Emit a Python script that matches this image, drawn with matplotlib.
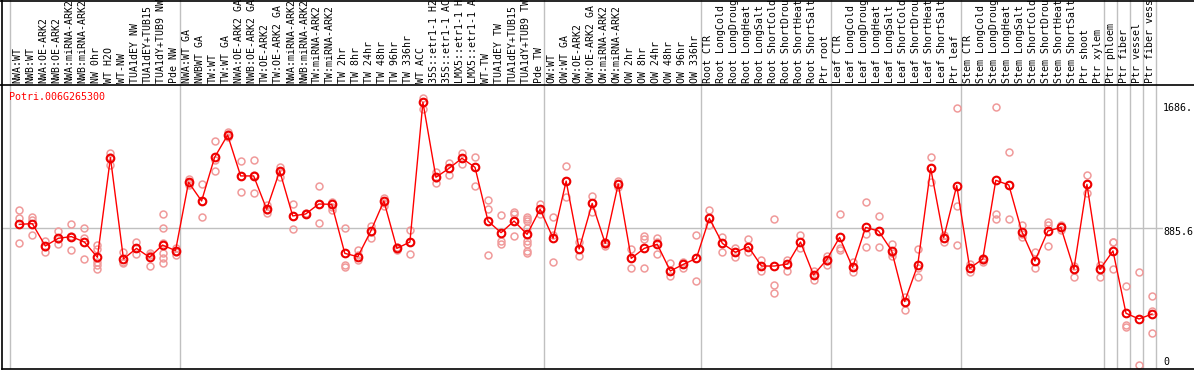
import matplotlib
matplotlib.use("Agg")
import matplotlib.pyplot as plt
from matplotlib.lines import Line2D

labels = ["NWA:WT", "NWB:WT", "NWA:OE-ARK2", "NWB:OE-ARK2", "NWA:miRNA-ARK2", "NWB:miRNA-ARK2",
          "NW 0hr", "WT H2O", "WT-NW", "TUA1dEY NW", "TUA1dEY+TUB15", "TUA1dY+TUB9 NW", "Pde NW",
          "NWA:WT GA", "NWBWT GA", "TW:WT", "TW:WT GA", "NWA:OE-ARK2 GA", "NWB:OE-ARK2 GA",
          "TW:OE-ARK2", "TW:OE-ARK2 GA", "NWA:miRNA-ARK2", "NWB:miRNA-ARK2", "TW:miRNA-ARK2",
          "TW:miRNA-ARK2", "TW 2hr", "TW 8hr", "TW 24hr", "TW 48hr", "TW 96hr", "TW 336hr",
          "WT ACC", "35S::etr1-1 H2", "35S::etr1-1 AC", "LMX5::etr1-1 H", "LMX5::etr1-1 A",
          "WT-TW", "TUA1dEY TW", "TUA1dEY+TUB15", "TUA1dY+TUB9 TW", "Pde TW",
          "OW:WT", "OW:WT GA", "OW:OE-ARK2", "OW:OE-ARK2 GA", "OW:miRNA-ARK2", "OW:miRNA-ARK2",
          "OW 2hr", "OW 8hr", "OW 24hr", "OW 48hr", "OW 96hr", "OW 336hr",
          "Root CTR", "Root LongCold", "Root LongDroug", "Root LongHeat", "Root LongSalt",
          "Root ShortCold", "Root ShortDrou", "Root ShortHeat", "Root ShortSalt", "Ptr root",
          "Leaf CTR", "Leaf LongCold", "Leaf LongDroug", "Leaf LongHeat", "Leaf LongSalt",
          "Leaf ShortCold", "Leaf ShortDrou", "Leaf ShortHeat", "Leaf ShortSalt", "Ptr leaf",
          "Stem CTR", "Stem LongCold", "Stem LongDroug", "Stem LongHeat", "Stem LongSalt",
          "Stem ShortCold", "Stem ShortDrou", "Stem ShortHeat", "Stem ShortSalt", "Ptr shoot",
          "Ptr xylem", "Ptr phloem", "Ptr fiber", "Ptr vessel", "Ptr fiber vess"]

means = [912, 917, 769, 820, 831, 795, 694, 1354, 683, 753, 694, 775, 738,
         1191, 1067, 1356, 1504, 1233, 1233, 1012, 1266, 968, 981, 1047, 1045,
         720, 698, 868, 1067, 753, 795, 1721, 1224, 1283, 1350, 1290, 934, 857,
         934, 846, 1012,
         820, 1199, 749, 1051, 786, 1180, 687, 753, 780, 603, 647, 687,
         952, 786, 727, 764, 636, 636, 649, 795, 577, 676,
         826, 627, 892, 868, 738, 400, 641, 1283, 824, 1169,
         621, 683, 1204, 1173, 864, 669, 868, 892, 616, 1177, 614,
         736, 323, 285, 318]

reps = [[1005, 952, 786], [963, 941, 842], [804, 764, 727], [868, 815, 780],
        [912, 838, 742], [886, 824, 683], [775, 749, 665, 643, 616], [1387, 1361, 1306],
        [731, 665, 654], [797, 753, 714], [724, 709, 638], [981, 886, 791, 720, 687, 658],
        [753, 731, 709],
        [1213, 1184, 1173], [1177, 1067, 959], [1465, 1339, 1266], [1522, 1509, 1493],
        [1332, 1233, 1129], [1339, 1240, 1118], [1040, 1007, 985], [1294, 1261, 1228],
        [1045, 968, 883], [980, 985, 978], [1166, 1050, 919], [1062, 1029, 1007],
        [886, 642, 632], [742, 709, 676], [903, 864, 824], [1085, 1051, 1034],
        [764, 749, 742], [875, 795, 714], [1752, 1721, 1677], [1257, 1217, 1188],
        [1317, 1283, 1239], [1383, 1350, 1312], [1356, 1290, 1166], [1074, 1012, 707],
        [974, 804, 780], [996, 979, 934, 835],
        [959, 948, 934, 886, 842, 804, 782, 738, 720], [1045, 1012, 981],
        [959, 842, 660], [1299, 1199, 1096], [797, 749, 705], [1100, 1051, 996],
        [797, 782, 769], [1199, 1180, 1162], [749, 687, 621], [837, 815, 621],
        [824, 797, 714], [654, 603, 572], [665, 647, 621], [842, 687, 537],
        [1005, 952, 908], [826, 786, 731], [758, 727, 698], [813, 764, 731],
        [676, 636, 603], [945, 510, 455], [676, 643, 603], [842, 795, 758],
        [603, 577, 541], [705, 672, 643],
        [981, 755, 742], [665, 627, 599], [1063, 846, 764], [965, 868, 764],
        [782, 720, 705], [429, 400, 345], [747, 621, 561], [1356, 1283, 1195],
        [842, 824, 793], [1681, 1036, 775],
        [647, 621, 594], [691, 676, 665], [1688, 981, 945], [1389, 1173, 945],
        [908, 846, 831], [727, 669, 621], [930, 908, 769], [908, 892, 875],
        [638, 616, 566], [1239, 1177, 1118], [643, 614, 566],
        [797, 792, 616], [504, 245, 230], [594, -20], [437, 338, 190]]

gene_id = "Potri.006G265300"
group_starts = [0, 13, 41, 53, 63, 73, 84, 85, 86, 87, 88]
ref_value = 885.6
y_labels = ["1686.", "885.6", "0"]

W, H = 1194, 370
fig = plt.figure(figsize=(W / 100, H / 100), dpi=100)
fig.patch.set_facecolor("white")

def fx(px):
    return px / W

def fy(py):
    return 1 - py / H

x0 = (2 - 19.3) / 13.02
x1 = (1163 - 19.3) / 13.02
ax = fig.add_axes([fx(2), fy(369), fx(1163) - fx(2), fy(85) - fy(369)])
ax.set_xlim(x0, x1)
ax.set_ylim((362 - 369) / 0.1509, (362 - 85) / 0.1509)
ax.axis("off")

axl = fig.add_axes([fx(2), fy(85), fx(1163) - fx(2), fy(0) - fy(85)])
axl.set_xlim(x0, x1)
axl.set_ylim(0, 85)
axl.axis("off")

mono = "DejaVu Sans Mono"
grey = "#c0c0c0"
for g in group_starts:
    ax.axvline(g - 0.68, color=grey, lw=1, zorder=1)
    axl.axvline(g - 0.68, color=grey, lw=1, zorder=1)
ax.axhline(ref_value, color=grey, lw=1, zorder=1)

for i, r in enumerate(reps):
    ax.plot([i] * len(r), r, linestyle="none", marker="o", ms=5, mfc="none",
            mec="#f09a9a", mew=1.1, zorder=2)
xs = list(range(len(means)))
ax.plot(xs, means, color="#ff0000", lw=1, zorder=3)
ax.plot(xs, means, linestyle="none", marker="o", ms=5.5, mfc="none",
        mec="#ee0000", mew=1.5, zorder=4)

for i, lab in enumerate(labels):
    axl.text(i - 0.12, 2, lab, rotation=90, ha="center", va="bottom",
             fontsize=7.1, family=mono, color="black", clip_on=False)

fig.text(fx(9), fy(96.7), gene_id, color="#ff0000", fontsize=7.2, family=mono,
         ha="left", va="center")
fig.text(fx(1163), fy(107.7), y_labels[0], fontsize=7.2, family=mono, ha="left", va="center")
fig.text(fx(1163), fy(232), y_labels[1], fontsize=7.2, family=mono, ha="left", va="center")
fig.text(fx(1163), fy(361.7), y_labels[2], fontsize=7.2, family=mono, ha="left", va="center")

for (xa, ya, xb, yb) in [(0, 0.5, W, 0.5), (0, 85, W, 85), (2, 0, 2, 369), (2, 369, W, 369)]:
    fig.add_artist(Line2D([fx(xa), fx(xb)], [fy(ya), fy(yb)], color="black", lw=1.2,
                          transform=fig.transFigure))

fig.savefig("out.png", dpi=100, facecolor="white")
